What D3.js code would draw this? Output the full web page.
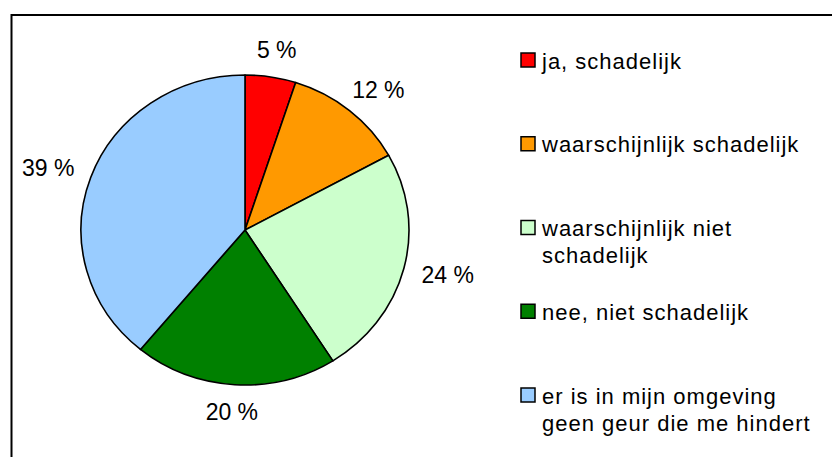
<!DOCTYPE html>
<html>
<head>
<meta charset="utf-8">
<script src="https://cdn.jsdelivr.net/npm/d3@7"></script>
<style>
  body { margin: 0; background: #fff; }
  svg { display: block; font-family: "Liberation Sans", Arial, sans-serif; }
</style>
</head>
<body>
<div id="chart"></div>
<script>
// Pie data (percentages)
const CATEGORIES = [
    ["ja, schadelijk"],
    ["waarschijnlijk schadelijk"],
    ["waarschijnlijk niet", "schadelijk"],
    ["nee, niet schadelijk"],
    ["er is in mijn omgeving", "geen geur die me hindert"]
];
const VALUES = [5, 12, 24, 20, 39];
const COLORS = ["#FF0000", "#FF9900", "#CCFFCC", "#008000", "#99CCFF"];

let svgWidth = 832;
let svgHeight = 457;

let svg = d3.select('#chart')
    .append('svg')
    .attr('width', svgWidth)
    .attr('height', svgHeight);

// chart frame (only top and left edges fall inside the picture)
svg.append('rect')
    .attr('x', 11.5)
    .attr('y', 15)
    .attr('width', 900)
    .attr('height', 500)
    .attr('fill', 'none')
    .attr('stroke', '#000')
    .attr('stroke-width', 2);

// pie is a bit wider than tall in the reference
let cx = 245, cy = 230;
let rx = 164, ry = 155;

let pie = d3.pie().sort(null).value(d => d);
let arcs = pie(VALUES);

let arc = d3.arc().innerRadius(0).outerRadius(rx);

let pieGroup = svg.append('g')
    .attr('transform', `translate(${cx}, ${cy}) scale(1, ${ry / rx})`);

pieGroup.selectAll('path')
    .data(arcs)
    .enter()
    .append('path')
    .attr('d', arc)
    .attr('fill', (d, i) => COLORS[i])
    .attr('stroke', '#000')
    .attr('stroke-width', 1.6)
    .attr('vector-effect', 'non-scaling-stroke')
    .attr('stroke-linejoin', 'round');

// percentage labels, placed just outside the rim
let gap = 19;
let capHeight = 16;
arcs.forEach((d, i) => {
    let a = (d.startAngle + d.endAngle) / 2;
    let label = svg.append('text')
        .attr('font-size', '23px')
        .attr('fill', '#000')
        .attr('text-anchor', 'middle')
        .text(`${VALUES[i]} %`);
    let w = label.node().getComputedTextLength();
    let px = cx + (rx + gap) * Math.sin(a) + Math.sin(a) * w / 2;
    let py = cy - (ry + gap) * Math.cos(a) - Math.cos(a) * capHeight / 2;
    label.attr('x', px).attr('y', py + capHeight / 2);
});

// legend
let legendX = 521;
let legendTop = 53;
let legendStep = 83.75;
let box = 14;

let legend = svg.append('g');
CATEGORIES.forEach((lines, i) => {
    let y = legendTop + i * legendStep;
    legend.append('rect')
        .attr('x', legendX)
        .attr('y', y)
        .attr('width', box)
        .attr('height', box)
        .attr('fill', COLORS[i])
        .attr('stroke', '#000')
        .attr('stroke-width', 1.5);
    let t = legend.append('text')
        .attr('font-size', '22px')
        .attr('letter-spacing', '1px')
        .attr('fill', '#000');
    lines.forEach((line, j) => {
        t.append('tspan')
            .attr('x', legendX + 21)
            .attr('y', y + 15.5 + j * 27)
            .text(line);
    });
});
</script>
</body>
</html>
